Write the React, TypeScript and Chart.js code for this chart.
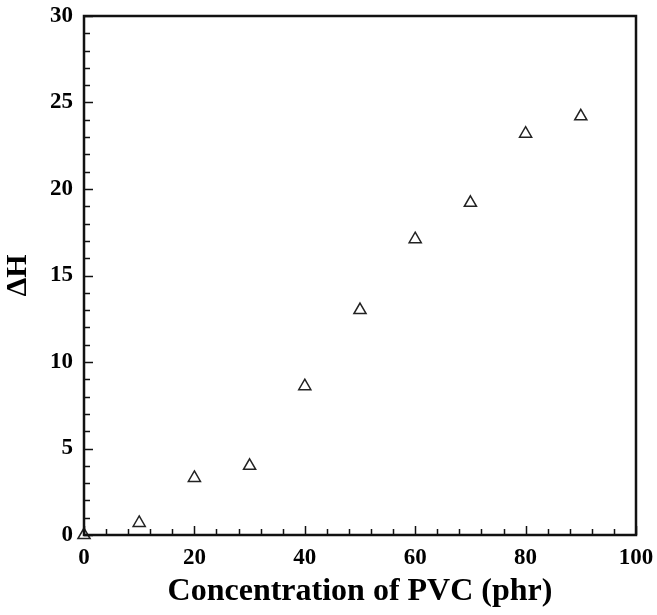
import React, { useEffect, useRef } from "react";
import { Chart, registerables } from "chart.js";

Chart.register(...registerables);

const concentration = [0, 10, 20, 30, 40, 50, 60, 70, 80, 90];
const deltaH = [0, 0.7, 3.3, 4.0, 8.6, 13.0, 17.1, 19.2, 23.2, 24.2];
const xTitle = "Concentration of PVC (phr)";
const yTitle = "ΔH";

const frameAndTicks = {
  id: "frameAndTicks",
  afterDraw(chart: any) {
    const { ctx, chartArea } = chart;
    const { left, right, top, bottom } = chartArea;
    const xs = chart.scales.x;
    const ys = chart.scales.y;
    ctx.save();
    ctx.strokeStyle = "#111";
    ctx.lineWidth = 1.5;
    ctx.beginPath();
    for (let v = 0; v <= 30; v += 1) {
      const y = Math.round(ys.getPixelForValue(v)) + 0.5;
      const len = v % 5 === 0 ? 9 : 6;
      ctx.moveTo(left, y);
      ctx.lineTo(left + len, y);
    }
    for (let v = 0; v <= 100; v += 4) {
      const x = Math.round(xs.getPixelForValue(v)) + 0.5;
      const len = v % 20 === 0 ? 9 : 6;
      ctx.moveTo(x, bottom);
      ctx.lineTo(x, bottom - len);
    }
    ctx.stroke();
    ctx.lineWidth = 2.5;
    ctx.beginPath();
    ctx.moveTo(left, bottom);
    ctx.lineTo(left, top);
    ctx.lineTo(right, top);
    ctx.lineTo(right, bottom);
    ctx.closePath();
    ctx.stroke();
    ctx.restore();
  },
};

const zeroPad = (s: any) => {
  s.paddingLeft = 0;
  s.paddingRight = 0;
  s.paddingTop = 0;
  s.paddingBottom = 0;
};

export default function App() {
  const ref = useRef<HTMLCanvasElement>(null);
  useEffect(() => {
    if (!ref.current) return;
    const tickFont = { family: "'Liberation Serif', 'Times New Roman', serif", size: 23, weight: "bold" as const };
    const chart = new Chart(ref.current, {
      type: "scatter",
      data: {
        datasets: [
          {
            data: concentration.map((x, i) => ({ x, y: deltaH[i] })),
            pointStyle: "triangle",
            pointRadius: 7,
            pointHoverRadius: 7,
            borderWidth: 1.5,
            borderColor: "#222",
            backgroundColor: "rgba(255,255,255,0)",
            clip: false as any,
          },
        ],
      },
      options: {
        responsive: false,
        animation: false,
        layout: { padding: { top: 16, right: 21, left: 0, bottom: 0 } },
        plugins: { legend: { display: false }, tooltip: { enabled: false } },
        scales: {
          x: {
            type: "linear",
            min: 0,
            max: 100,
            border: { display: false },
            grid: { display: false, drawTicks: false },
            ticks: { stepSize: 20, padding: 9, color: "#000", font: tickFont },
            title: {
              display: true,
              text: xTitle,
              color: "#000",
              font: { family: "'Liberation Serif', 'Times New Roman', serif", size: 32, weight: "bold", lineHeight: 1 },
              padding: { top: 0, bottom: 7 },
            },
            afterFit: (s: any) => {
              s.height = 80;
              zeroPad(s);
            },
          },
          y: {
            type: "linear",
            min: 0,
            max: 30,
            border: { display: false },
            grid: { display: false, drawTicks: false },
            ticks: { stepSize: 5, padding: 11, color: "#000", font: tickFont },
            title: {
              display: true,
              text: yTitle,
              color: "#000",
              font: { family: "'Liberation Serif', 'Times New Roman', serif", size: 30, weight: "bold", lineHeight: 1 },
              padding: { top: 3, bottom: 0 },
            },
            afterFit: (s: any) => {
              s.width = 84;
              zeroPad(s);
            },
          },
        },
      },
      plugins: [frameAndTicks],
    });
    return () => chart.destroy();
  }, []);
  return (
    <canvas
      ref={ref}
      width={657}
      height={615}
      style={{ display: "block", position: "absolute", left: 0, top: 0 }}
    />
  );
}
